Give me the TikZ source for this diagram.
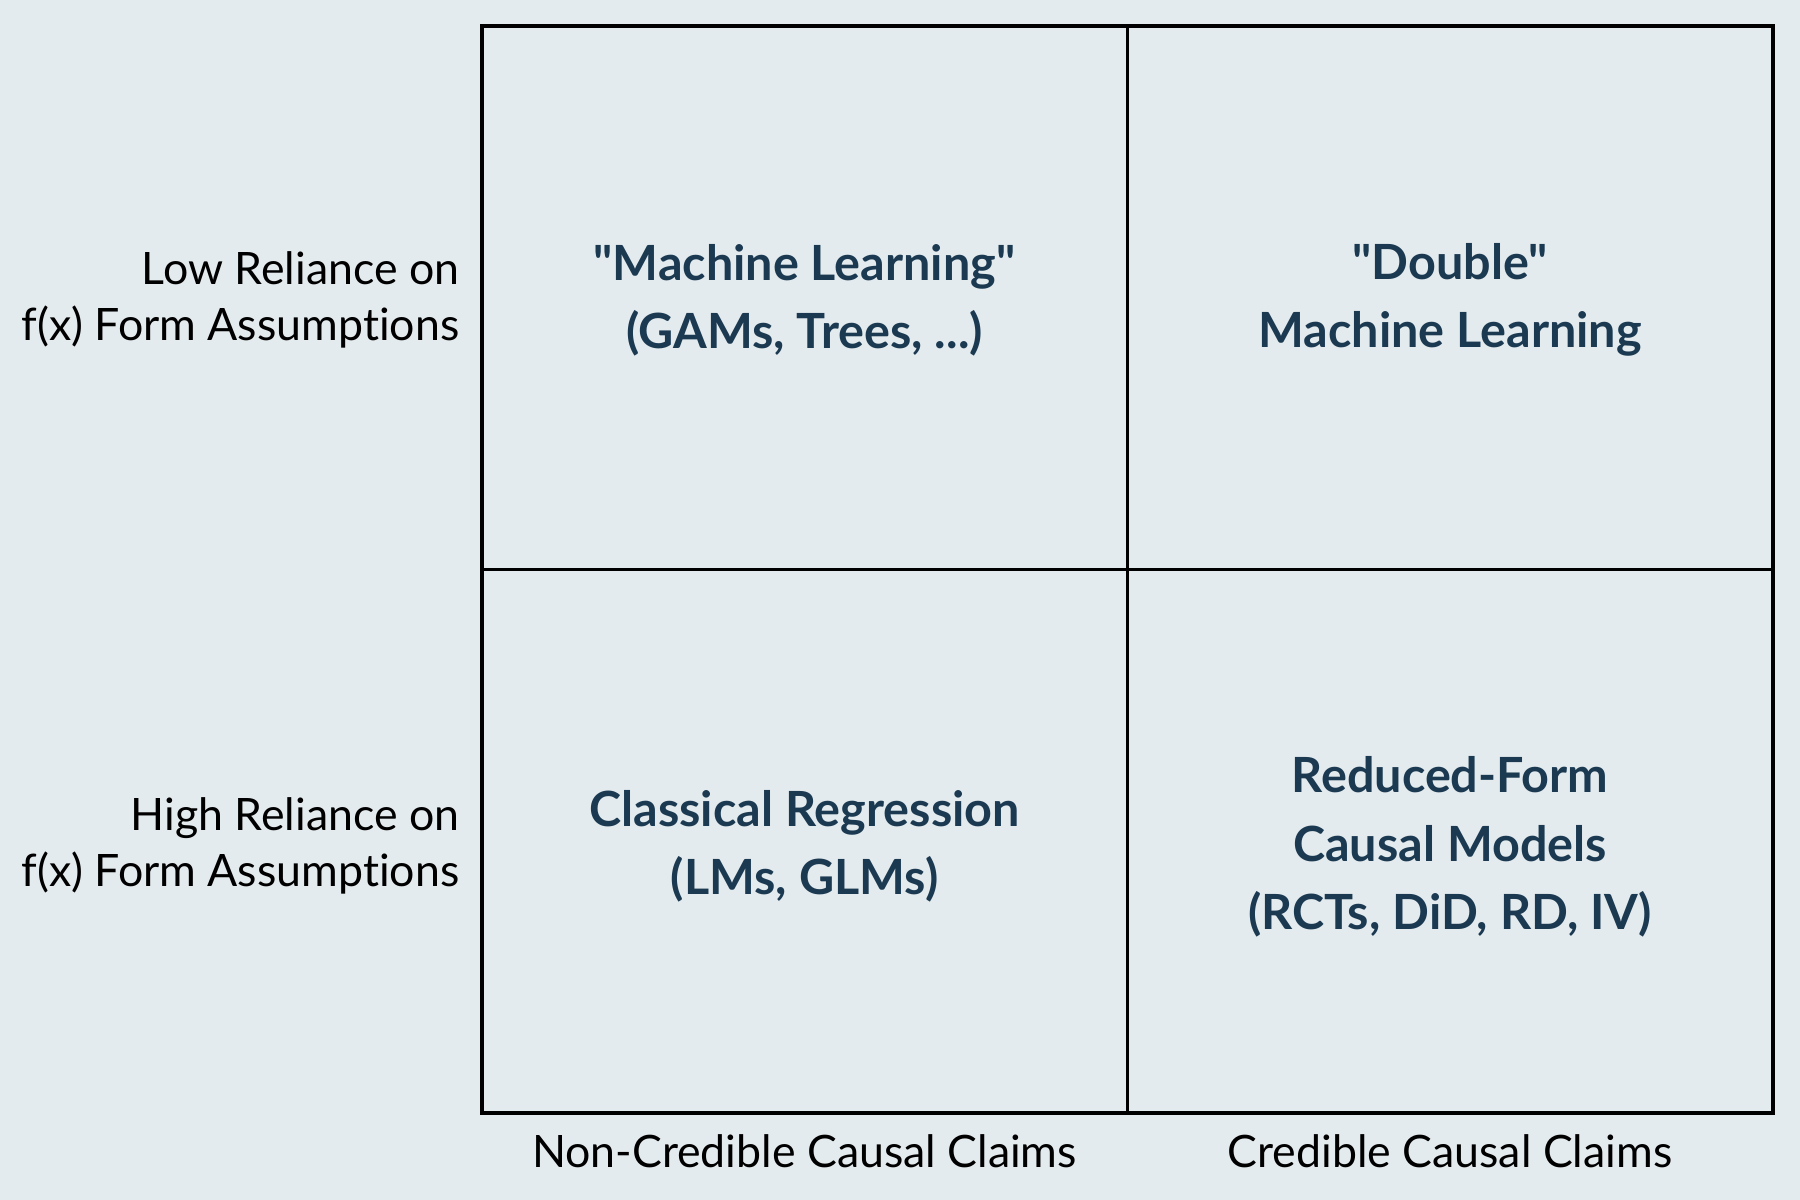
\documentclass[tikz,border=0pt]{standalone}
\usepackage{fontspec}
\setmainfont{Lato}[Ligatures={TeXOff,CommonOff}]
\definecolor{bgpaper}{HTML}{E4EBEE}
\definecolor{cellink}{HTML}{1B3A52}
\begin{document}
\begin{tikzpicture}[x=0.01cm,y=-0.01cm,
  cell/.style={draw=black,line width=0.9pt},
  axislabel/.style={font=\fontsize{12.7pt}{15.9pt}\selectfont,text=black,inner sep=0pt},
  celltext/.style={font=\fontsize{13.8pt}{19.4pt}\selectfont\bfseries,text=cellink,align=center,inner sep=0pt}]
  \fill[bgpaper] (0,0) rectangle (1800,1200);
  \useasboundingbox (0,0) rectangle (1800,1200);
  % four quadrants
  \draw[cell] (482,26) rectangle (1127.5,569.5);
  \draw[cell] (1127.5,26) rectangle (1773,569.5);
  \draw[cell] (482,569.5) rectangle (1127.5,1113);
  \draw[cell] (1127.5,569.5) rectangle (1773,1113);
  % row labels
  \node[axislabel,align=right,anchor=east] (lowrel) at (460,300) {Low Reliance on\\f(x) Form Assumptions};
  \node[axislabel,align=right,anchor=east] (highrel) at (460,846) {High Reliance on\\f(x) Form Assumptions};
  % column labels
  \node[axislabel] (noncred) at (804.5,1151) {Non-Credible Causal Claims};
  \node[axislabel] (cred) at (1450,1151) {Credible Causal Claims};
  % quadrant contents
  \node[celltext] (ml) at (804.5,300) {"Machine Learning"\\(GAMs, Trees, ...)};
  \node[celltext] (dml) at (1450,300) {"Double"\\Machine Learning};
  \node[celltext] (creg) at (804.5,846) {Classical Regression\\(LMs, GLMs)};
  \node[celltext] (rform) at (1450,847) {Reduced-Form\\Causal Models\\(RCTs, DiD, RD, IV)};
\end{tikzpicture}
\end{document}
